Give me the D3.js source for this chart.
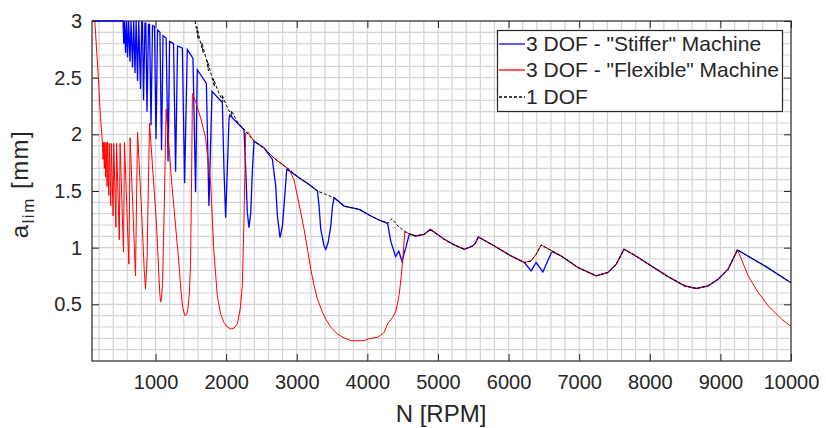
<!DOCTYPE html>
<html>
<head>
<meta charset="utf-8">
<script src="https://cdn.jsdelivr.net/npm/d3@7"></script>
<style>
  body { margin: 0; background: #fff; }
  text { font-family: "Liberation Sans", Arial, sans-serif; fill: #262626; }
</style>
</head>
<body>
<div id="container"></div>
<script>
// spindle speed [rpm] / limiting depth [mm]
let stiffer = [
  [100,3.0],[540,3.0],[550,2.8],[560,3.0],[575,2.72],[588,3.0],[603,2.68],[618,3.0],
  [638,2.64],[652,3.0],[674,2.59],[690,3.0],[709,2.54],[725,3.0],[745,2.47],[762,3.0],
  [787,2.4],[805,2.99],[815,2.99],[830,2.3],[850,2.98],[862,2.98],[879,2.2],[900,2.97],[915,2.97],
  [936,2.08],[957,2.96],[985,2.95],[1007,1.96],[1028,2.92],[1062,2.9],
  [1085,1.86],[1106,2.87],[1150,2.85],[1177,1.76],[1199,2.82],[1255,2.8],
  [1284,1.67],[1312,2.78],[1380,2.76],[1411,1.57],[1450,2.75],[1530,2.67],
  [1567,1.49],[1591,2.57],[1720,2.45],[1756,1.367],[1800,2.38],[1946,2.28],
  [1969,1.69],[1993,1.265],[2017,1.69],[2040,2.13],[2050,2.17],[2253,2.04],
  [2277,1.69],[2300,1.309],[2323,1.177],[2348,1.309],[2372,1.69],[2395,1.94],[2537,1.88],[2655,1.778],
  [2702,1.543],[2726,1.279],[2763,1.089],[2797,1.19],[2830,1.455],[2858,1.69],[2891,1.68],
  [3033,1.617],[3174,1.558],[3293,1.50],
  [3316,1.367],[3340,1.162],[3387,1.015],[3411,0.986],[3444,1.045],[3482,1.19],[3506,1.367],[3530,1.441],
  [3671,1.367],[3884,1.338],[4050,1.279],[4180,1.24],[4287,1.215],
  [4330,1.06],[4400,0.92],[4445,0.97],[4490,0.88],[4545,1.0],[4590,1.11],[4617,1.118],
  [4688,1.103],[4806,1.118],[4891,1.162],[5089,1.074],[5230,1.025],[5373,0.986],[5492,1.015],
  [5530,1.04],[5572,1.094],[5799,1.015],[6035,0.927],[6224,0.869],
  [6319,0.795],[6390,0.869],[6485,0.786],[6603,0.951],[6620,0.965],[6745,0.927],[6982,0.825],
  [7241,0.751],[7407,0.781],[7525,0.854],[7634,0.986],[7785,0.933],[8021,0.839],[8258,0.745],
  [8494,0.663],[8660,0.640],[8826,0.663],[8968,0.722],[9109,0.810],[9241,0.980],[9629,0.839],[10000,0.69]
];

let flexible = [
  [100,3.0],[140,3.0],[190,2.5],[220,2.15],[245,1.95],
  [258,1.78],[263,1.93],[275,1.7],[281,1.93],[294,1.62],[300,1.93],[314,1.54],[320,1.93],
  [338,1.46],[345,1.92],[366,1.37],[373,1.92],[399,1.28],[408,1.92],[439,1.18],[448,1.92],
  [487,1.07],[498,1.92],[546,0.96],[560,1.93],[622,0.854],[640,1.97],[716,0.751],[745,2.02],
  [800,1.35],[840,0.8],[858,0.634],[880,0.9],[900,1.6],[915,2.1],
  [1014,1.2],[1040,0.85],[1060,0.6],[1071,0.52],[1085,0.55],[1100,0.7],[1125,1.4],[1150,2.22],
  [1232,1.55],[1290,1.15],[1330,0.87],[1360,0.62],[1385,0.47],[1416,0.40],[1440,0.41],[1459,0.46],
  [1480,0.6],[1495,0.85],[1505,1.3],[1515,1.9],[1522,2.36],
  [1567,2.29],[1638,2.145],[1709,1.97],[1780,1.573],[1827,0.957],[1875,0.575],[1922,0.414],[1969,0.34],
  [2017,0.3],[2064,0.282],[2111,0.29],[2158,0.326],[2199,0.458],[2229,0.663],[2253,1.25],[2277,2.013],[2310,2.02],
  [2395,1.94],[2537,1.88],[2678,1.79],[2891,1.69],[2915,1.66],[2960,1.6],[3010,1.455],[3057,1.31],
  [3104,1.162],[3152,0.986],[3199,0.81],[3246,0.663],[3293,0.546],[3364,0.43],[3411,0.37],
  [3482,0.297],[3577,0.238],[3671,0.203],[3766,0.179],[3955,0.179],[4003,0.194],[4145,0.209],
  [4239,0.253],[4287,0.33],[4357,0.385],[4404,0.44],[4450,0.58],[4480,0.75],[4505,0.92],[4530,1.14],
  [4600,1.12],[4688,1.103],[4806,1.118],[4891,1.162],[5089,1.074],[5230,1.025],[5373,0.986],
  [5492,1.015],[5530,1.04],[5572,1.094],[5799,1.015],[6035,0.927],[6224,0.869],[6319,0.883],
  [6390,0.942],[6461,1.024],[6745,0.927],[6982,0.825],[7241,0.751],[7407,0.781],[7525,0.854],
  [7634,0.986],[7785,0.933],[8021,0.839],[8258,0.745],[8494,0.663],[8660,0.640],[8826,0.663],
  [8968,0.722],[9109,0.810],[9241,0.980],[9298,0.898],[9393,0.751],[9535,0.605],[9677,0.487],
  [9865,0.370],[10000,0.305]
];

let oneDof = [
  [1560,3.0],[1605,2.84],[1585,2.95],[1640,2.80],[1675,2.72],[1655,2.81],[1720,2.66],[1750,2.56],
  [1735,2.65],[1800,2.50],[1835,2.42],[1820,2.49],[1900,2.36],[1955,2.29],[1940,2.35],[2030,2.22],
  [2085,2.16],[2070,2.21],[2170,2.10],[2230,2.06],[2277,2.03],[2310,2.0],
  [2395,1.94],[2537,1.88],[2678,1.79],[2760,1.75],[2891,1.69],[3033,1.617],[3174,1.558],
  [3294,1.499],[3411,1.47],[3530,1.441],[3671,1.367],[3884,1.338],[4050,1.279],[4180,1.24],
  [4287,1.215],[4348,1.256],[4435,1.19],[4522,1.147],[4600,1.12],[4688,1.103],[4806,1.118],
  [4891,1.162],[5089,1.074],[5230,1.025],[5373,0.986],[5492,1.015],[5530,1.04],[5572,1.094],
  [5799,1.015],[6035,0.927],[6224,0.869],[6319,0.883],[6390,0.942],[6461,1.024],[6745,0.927],
  [6982,0.825],[7241,0.751],[7407,0.781],[7525,0.854],[7634,0.986],[7785,0.933],[8021,0.839],
  [8258,0.745],[8494,0.663],[8660,0.640],[8826,0.663],[8968,0.722],[9109,0.810],[9241,0.980],
  [9629,0.839],[10000,0.69]
];

let xTicks = [1000,2000,3000,4000,5000,6000,7000,8000,9000,10000];
let yTicks = [0.5,1,1.5,2,2.5,3];
let legendNames = ['3 DOF - "Stiffer" Machine','3 DOF - "Flexible" Machine','1 DOF'];

let w = 826;
let h = 428;

let viz = d3.select("#container")
  .append("svg")
    .attr("width",w)
    .attr("height",h)
    .style("background-color","white")
;

let xScale = d3.scaleLinear().domain([100,10000]).range([92,791]);
let yScale = d3.scaleLinear().domain([0,3]).range([361,21]);

viz.append("clipPath").attr("id","plotclip")
  .append("rect")
    .attr("x",92).attr("y",20)
    .attr("width",699).attr("height",341);

// minor grid
let gridX = d3.range(200,10000,200);
let gridY = d3.range(1,30).map(d => d/10);

viz.append("g").selectAll("line").data(gridX).enter().append("line")
    .attr("x1",d => xScale(d)).attr("x2",d => xScale(d))
    .attr("y1",21).attr("y2",361)
    .attr("stroke","#d4d4d4").attr("stroke-width",1.2);

viz.append("g").selectAll("line").data(gridY).enter().append("line")
    .attr("y1",d => yScale(d)).attr("y2",d => yScale(d))
    .attr("x1",92).attr("x2",791)
    .attr("stroke","#d4d4d4").attr("stroke-width",1.2);

viz.append("rect")
    .attr("x",92).attr("y",21).attr("width",699).attr("height",340)
    .attr("fill","none").attr("stroke","#262626").attr("stroke-width",1.2);

let line = d3.line()
    .x(d => xScale(d[0]))
    .y(d => yScale(d[1]));

let plot = viz.append("g").attr("clip-path","url(#plotclip)");

plot.append("path").datum(stiffer)
    .attr("d",line).attr("fill","none")
    .attr("stroke","#0000ff").attr("stroke-width",1.3);

plot.append("path").datum(flexible)
    .attr("d",line).attr("fill","none")
    .attr("stroke","#ff0000").attr("stroke-width",1);

plot.append("path").datum(oneDof)
    .attr("d",line).attr("fill","none")
    .attr("stroke","#000000").attr("stroke-width",1)
    .attr("stroke-dasharray","3,2");

// axes, ticks inside
let xAxis = viz.append("g").attr("transform","translate(0,361)")
  .call(d3.axisBottom(xScale).tickValues(xTicks).tickSize(-7).tickPadding(14).tickFormat(d3.format("d")));
let xTop = viz.append("g").attr("transform","translate(0,21)")
  .call(d3.axisTop(xScale).tickValues(xTicks).tickSize(-7).tickFormat(""));
let yAxis = viz.append("g").attr("transform","translate(92,0)")
  .call(d3.axisLeft(yScale).tickValues(yTicks).tickSize(-7).tickPadding(10).tickFormat(d3.format("~g")));
let yRight = viz.append("g").attr("transform","translate(791,0)")
  .call(d3.axisRight(yScale).tickValues(yTicks).tickSize(-7).tickFormat(""));

[xAxis,xTop,yAxis,yRight].forEach(a => {
  a.select(".domain").remove();
  a.selectAll(".tick line").attr("stroke","#262626");
  a.selectAll(".tick text").style("font-size","20px").attr("fill","#262626")
    .style("font-family","'Liberation Sans', Arial, sans-serif");
});

// axis titles
viz.append("text")
    .text("N [RPM]")
    .attr("x",441).attr("y",422)
    .attr("text-anchor","middle")
    .style("font-size","24px");

let ylab = viz.append("text")
    .attr("transform","translate(28,184) rotate(-90)")
    .attr("text-anchor","middle")
    .style("font-size","24px")
    .style("letter-spacing","1.5px");
ylab.append("tspan").text("a");
ylab.append("tspan").text("lim").attr("dy",6).style("font-size","17px");
ylab.append("tspan").text(" [mm]").attr("dy",-6);

// legend
let legend = viz.append("g");
legend.append("rect")
    .attr("x",497.5).attr("y",30.5).attr("width",285).attr("height",81)
    .attr("fill","white").attr("stroke","#262626").attr("stroke-width",1.2);

let legendColors = ["#0000ff","#ff0000","#000000"];
let legendY = [44,70,97];
legendNames.forEach((name,i) => {
  legend.append("line")
      .attr("x1",499).attr("x2",525)
      .attr("y1",legendY[i]).attr("y2",legendY[i])
      .attr("stroke",legendColors[i]).attr("stroke-width",1.3)
      .attr("stroke-dasharray",i == 2 ? "3,2" : null);
  legend.append("text")
      .text(name)
      .attr("x",526).attr("y",legendY[i]+7)
      .style("font-size","21px");
});
</script>
</body>
</html>
